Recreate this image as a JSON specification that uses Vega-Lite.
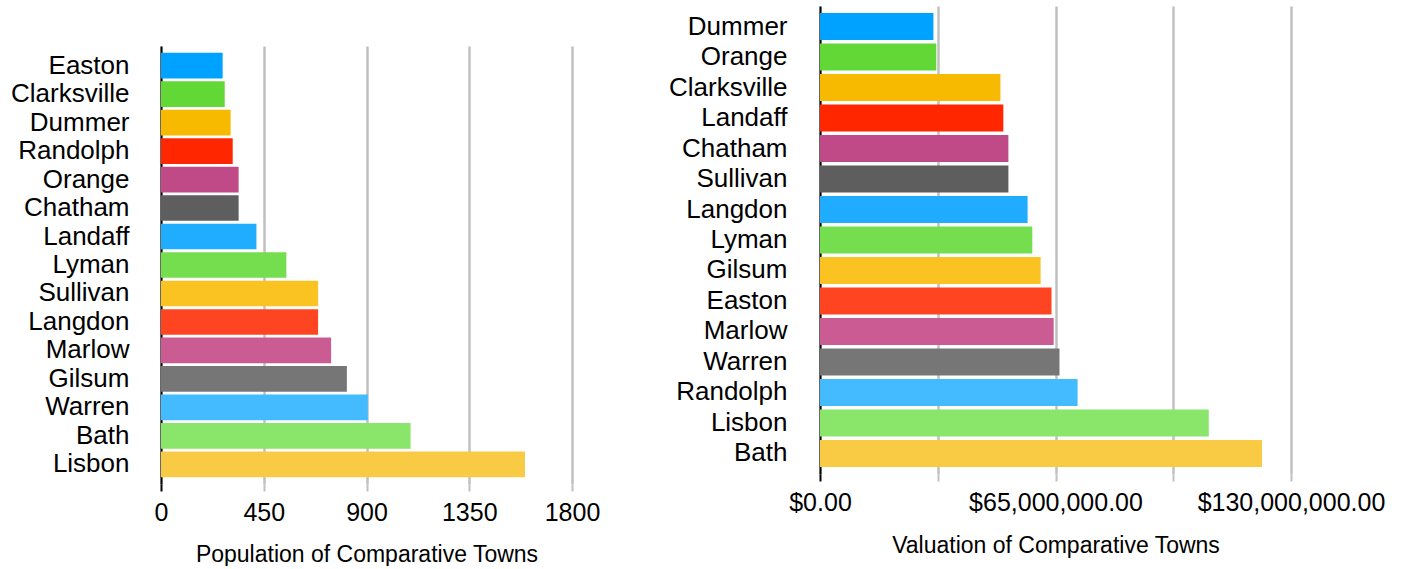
{
  "$schema": "https://vega.github.io/schema/vega-lite/v6.json",
  "padding": {"left": 10, "top": 6, "right": 0, "bottom": 0},
  "background": "white",
  "spacing": 68,
  "config": {
    "view": {"stroke": null},
    "font": "Liberation Sans",
    "axis": {"labelFont": "Liberation Sans", "titleFont": "Liberation Sans", "labelColor": "black", "titleColor": "black", "titleFontWeight": "normal"}
  },
  "datasets": {
    "towns": [
      {"town": "Easton", "population": 270, "valuation": 63900000},
      {"town": "Clarksville", "population": 279, "valuation": 49800000},
      {"town": "Dummer", "population": 305, "valuation": 31300000},
      {"town": "Randolph", "population": 314, "valuation": 71100000},
      {"town": "Orange", "population": 340, "valuation": 32100000},
      {"town": "Chatham", "population": 340, "valuation": 52000000},
      {"town": "Landaff", "population": 418, "valuation": 50600000},
      {"town": "Lyman", "population": 549, "valuation": 58600000},
      {"town": "Sullivan", "population": 688, "valuation": 52000000},
      {"town": "Langdon", "population": 688, "valuation": 57300000},
      {"town": "Marlow", "population": 745, "valuation": 64500000},
      {"town": "Gilsum", "population": 814, "valuation": 60900000},
      {"town": "Warren", "population": 906, "valuation": 66100000},
      {"town": "Bath", "population": 1093, "valuation": 122000000},
      {"town": "Lisbon", "population": 1594, "valuation": 107300000}
    ]
  },
  "resolve": {"scale": {"color": "independent"}},
  "hconcat": [
    {
      "spacing": 20,
      "vconcat": [
        {
          "width": 411,
          "height": 20,
          "data": {"values": []},
          "mark": {"type": "point"},
          "encoding": {}
        },
        {
          "width": 411,
          "height": 438,
          "data": {"name": "towns"},
          "mark": {"type": "bar"},
          "encoding": {
            "y": {
              "field": "town", "type": "nominal",
              "sort": ["Easton", "Clarksville", "Dummer", "Randolph", "Orange", "Chatham", "Landaff", "Lyman", "Sullivan", "Langdon", "Marlow", "Gilsum", "Warren", "Bath", "Lisbon"],
              "scale": {"paddingInner": 0.1, "paddingOuter": 0.24},
              "axis": {"title": null, "ticks": false, "grid": false, "domainColor": "black", "domainWidth": 2, "labelFontSize": 26, "labelPadding": 32, "labelAlign": "right"}
            },
            "x": {
              "field": "population", "type": "quantitative",
              "scale": {"domain": [0, 1800], "nice": false},
              "axis": {
                "title": "Population of Comparative Towns", "titleFontSize": 23, "titlePadding": 18,
                "values": [0, 450, 900, 1350, 1800], "format": "d",
                "labelFontSize": 25, "labelPadding": 9, "labelFlush": false, "labelOverlap": false,
                "domain": false, "grid": true, "gridColor": "#c0c0c0", "gridWidth": 2.5,
                "tickSize": 7, "tickWidth": 2,
                "tickColor": {"condition": {"test": "datum.value == 0", "value": "black"}, "value": "#c0c0c0"}
              }
            },
            "color": {
              "field": "town", "type": "nominal", "legend": null,
              "scale": {
                "domain": ["Easton", "Clarksville", "Dummer", "Randolph", "Orange", "Chatham", "Landaff", "Lyman", "Sullivan", "Langdon", "Marlow", "Gilsum", "Warren", "Bath", "Lisbon"],
                "range": ["#00A2FF", "#61D836", "#F8BA00", "#FF2600", "#C04A87", "#5E5E5E", "#20ADFF", "#74DE4E", "#FAC322", "#FF4422", "#CA5C93", "#767676", "#44BBFF", "#89E66A", "#F9CB44"]
              }
            }
          }
        }
      ]
    },
    {
      "width": 471,
      "height": 468,
      "data": {"name": "towns"},
      "mark": {"type": "bar"},
      "encoding": {
        "y": {
          "field": "town", "type": "nominal",
          "sort": ["Dummer", "Orange", "Clarksville", "Landaff", "Chatham", "Sullivan", "Langdon", "Lyman", "Gilsum", "Easton", "Marlow", "Warren", "Randolph", "Lisbon", "Bath"],
          "scale": {"paddingInner": 0.115, "paddingOuter": 0.23},
          "axis": {"title": null, "ticks": false, "grid": false, "domainColor": "black", "domainWidth": 2, "labelFontSize": 26, "labelPadding": 33, "labelAlign": "right"}
        },
        "x": {
          "field": "valuation", "type": "quantitative",
          "scale": {"domain": [0, 130000000], "nice": false},
          "axis": {
            "title": "Valuation of Comparative Towns", "titleFontSize": 23, "titlePadding": 19,
            "values": [0, 32500000, 65000000, 97500000, 130000000],
            "labelExpr": "datum.value % 65000000 == 0 ? format(datum.value, '$,.2f') : ''",
            "labelFontSize": 25, "labelPadding": 9, "labelFlush": false, "labelOverlap": false, "labelLimit": 400,
            "domain": false, "grid": true, "gridColor": "#c0c0c0", "gridWidth": 2.5,
            "tickSize": 7, "tickWidth": 2,
            "tickColor": {"condition": {"test": "datum.value == 0", "value": "black"}, "value": "#c0c0c0"}
          }
        },
        "color": {
          "field": "town", "type": "nominal", "legend": null,
          "scale": {
            "domain": ["Dummer", "Orange", "Clarksville", "Landaff", "Chatham", "Sullivan", "Langdon", "Lyman", "Gilsum", "Easton", "Marlow", "Warren", "Randolph", "Lisbon", "Bath"],
            "range": ["#00A2FF", "#61D836", "#F8BA00", "#FF2600", "#C04A87", "#5E5E5E", "#20ADFF", "#74DE4E", "#FAC322", "#FF4422", "#CA5C93", "#767676", "#44BBFF", "#89E66A", "#F9CB44"]
          }
        }
      }
    }
  ]
}
